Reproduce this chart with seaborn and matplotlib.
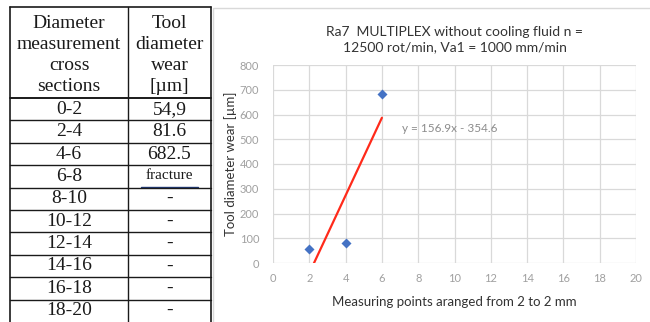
import numpy as np
import pandas as pd
import seaborn as sns
import matplotlib
matplotlib.use("Agg")
import matplotlib.pyplot as plt
from matplotlib.patches import Rectangle

# ---------------- data ----------------
sections = ["0-2", "2-4", "4-6", "6-8", "8-10", "10-12", "12-14", "14-16", "16-18", "18-20"]
wear_labels = ["54,9", "81.6", "682.5", "fracture", "-", "-", "-", "-", "-", "-"]
header_col1 = ["Diameter", "measurement", "cross", "sections"]
header_col2 = ["Tool", "diameter", "wear", "[\u00b5m]"]

points_x = [2, 4, 6]
points_y = [54.9, 81.6, 682.5]
x_ticks = [0, 2, 4, 6, 8, 10, 12, 14, 16, 18, 20]
y_ticks = [0, 100, 200, 300, 400, 500, 600, 700, 800]

title = "Ra7  MULTIPLEX without cooling fluid n =\n12500 rot/min, Va1 = 1000 mm/min"
x_label = "Measuring points aranged from 2 to 2 mm"
y_label = "Tool diameter wear [\u00b5m]"
equation = "y = 156.9x - 354.6"

df = pd.DataFrame({"x": points_x, "y": points_y})

# ---------------- figure ----------------
sns.set_theme(style="white")
plt.rcParams["font.family"] = ["Lato", "DejaVu Sans"]

W, H = 650, 322
fig = plt.figure(figsize=(W / 100, H / 100), dpi=100)
fig.patch.set_facecolor("white")

# background axes in pixel coordinates for table + chart frame
bg = fig.add_axes([0, 0, 1, 1])
bg.set_xlim(0, W)
bg.set_ylim(H, 0)
bg.axis("off")

# chart frame
bg.add_patch(Rectangle((212.5, 8), 460, 340, fill=False, edgecolor="#d9d9d9", lw=1.0))

# table geometry
tx0, tx1, tx2 = 10, 128, 211
ty0, thead = 7, 98
row_h = 22.4
lc = "#1a1a1a"
serif = ["Liberation Serif", "DejaVu Serif"]

# outer and column lines
bg.plot([tx0, tx0], [ty0, H + 5], color=lc, lw=1.2)
bg.plot([tx2, tx2], [ty0, H + 5], color=lc, lw=1.2)
bg.plot([tx1, tx1], [ty0, H + 5], color=lc, lw=1.0)
bg.plot([tx0, tx2], [ty0, ty0], color=lc, lw=1.2)
bg.plot([tx0, tx2], [thead, thead], color=lc, lw=1.4)

c1 = (tx0 + tx1) / 2
c2 = (tx1 + tx2) / 2
for i, (a, b) in enumerate(zip(header_col1, header_col2)):
    yy = 23 + i * 21.0
    bg.text(c1, yy, a, ha="center", va="center", fontsize=14, family=serif, color="#1a1a1a")
    bg.text(c2, yy, b, ha="center", va="center", fontsize=14, family=serif, color="#1a1a1a")

for i, (s, w) in enumerate(zip(sections, wear_labels)):
    top = thead + i * row_h
    bot = top + row_h
    cy = (top + bot) / 2
    bg.text(c1, cy, s, ha="center", va="center", fontsize=14, family=serif, color="#1a1a1a")
    fs = 11 if w == "fracture" else 14
    bg.text(c2, cy - (1 if w == "fracture" else 0), w, ha="center", va="center",
            fontsize=fs, family=serif, color="#1a1a1a")
    if w == "fracture":
        bg.plot([141, 198], [bot - 1.0, bot - 1.0], color="#1f3a7a", lw=1.0)
    if i < len(sections) - 1:
        bg.plot([tx0, tx2], [bot, bot], color=lc, lw=1.0)

# ---------------- chart ----------------
ax_l, ax_r, ax_t, ax_b = 273, 636, 65, 263
ax = fig.add_axes([ax_l / W, 1 - ax_b / H, (ax_r - ax_l) / W, (ax_b - ax_t) / H])
ax.set_facecolor("white")

sns.regplot(data=df, x="x", y="y", ax=ax, scatter=False, ci=None, truncate=True,
            line_kws=dict(color="#ff2a1a", lw=1.6, zorder=3))
sns.scatterplot(data=df, x="x", y="y", ax=ax, marker="D", s=26, color="#4472c4",
                edgecolor="#4472c4", linewidth=0, zorder=4)

ax.set_xlim(0, 20)
ax.set_ylim(0, 800)
ax.set_xticks(x_ticks)
ax.set_yticks(y_ticks)
ax.grid(True, color="#d9d9d9", lw=0.9)
ax.set_axisbelow(True)
for sp in ax.spines.values():
    sp.set_visible(False)
ax.tick_params(axis="both", length=0, labelsize=8, labelcolor="#a0a0a0", pad=7)
ax.tick_params(axis="y", pad=10)

ax.set_xlabel(x_label, fontsize=9.5, color="#333333", labelpad=9)
ax.set_ylabel(y_label, fontsize=9.5, color="#333333", labelpad=2)
ax.set_title(title, fontsize=10, color="#333333", pad=10, linespacing=1.35)

ax.text(7.1, 545, equation, fontsize=8.5, color="#8c8c8c", va="center", ha="left")

fig.savefig("out.png", dpi=100, facecolor="white")
